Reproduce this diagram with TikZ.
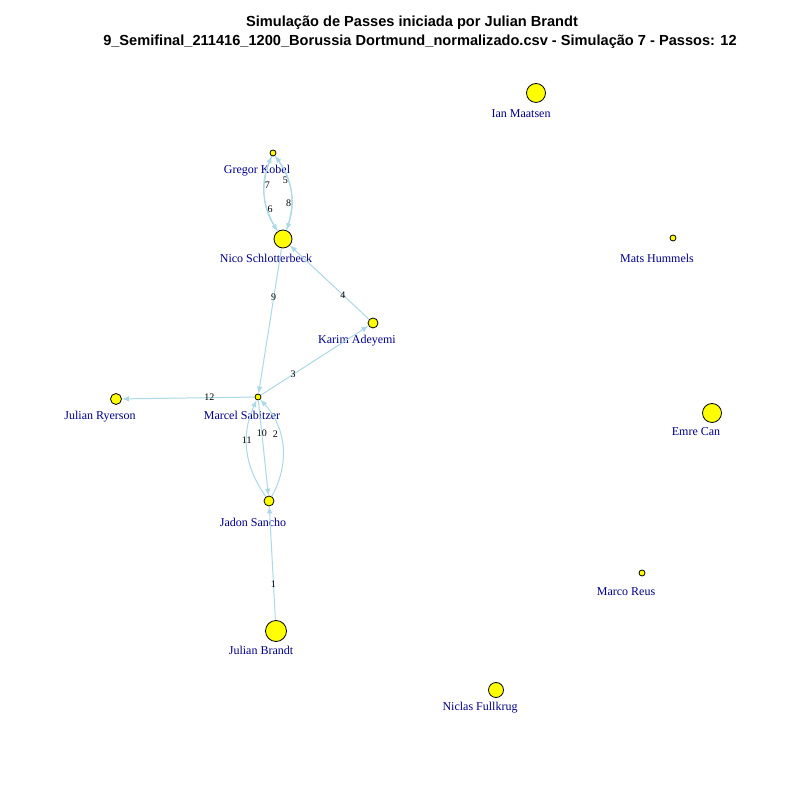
\documentclass[tikz,border=0pt]{standalone}
\usepackage{fontspec}
\setmainfont{Liberation Serif}
\newfontfamily\titlefont{Liberation Sans}
\usetikzlibrary{arrows.meta}
\definecolor{edgeblue}{HTML}{ADD8E6}
\definecolor{namecol}{HTML}{00008B}
\definecolor{dotfill}{HTML}{FFFF00}
\tikzset{
  playerdot/.style={circle, draw=black, line width=0.8pt, fill=dotfill, inner sep=0pt, minimum size=#1},
  playername/.style={text=namecol, font=\fontsize{12}{12}\selectfont, inner sep=0pt, anchor=center},
  pass/.style={draw=edgeblue, line width=1pt, -{Latex[length=7pt,width=5.5pt]}},
  passno/.style={font=\fontsize{10}{10}\selectfont, text=black, inner sep=0pt},
  heading/.style={font=\titlefont\bfseries\fontsize{14.6}{14.6}\selectfont, inner sep=0pt}
}
\begin{document}
\begin{tikzpicture}[x=1pt,y=1pt]
\useasboundingbox (0,0) rectangle (800,800);
\fill[white] (0,0) rectangle (800,800);

% title
\node[heading] (t1) at (412,777) {Simulação de Passes iniciada por Julian Brandt};
\node[heading] (t2) at (420,758) {9\_Semifinal\_211416\_1200\_Borussia Dortmund\_normalizado.csv - Simulação 7 - Passos: 12};

% players
\node[playerdot=19pt] (maatsen)  at (536,707) {};
\node[playerdot=6pt]  (kobel)    at (273,647) {};
\node[playerdot=18pt] (schl)     at (283,561) {};
\node[playerdot=6pt]  (hummels)  at (673,562) {};
\node[playerdot=10pt] (adeyemi)  at (373,477) {};
\node[playerdot=11pt] (ryerson)  at (116,401) {};
\node[playerdot=6pt]  (sabitzer) at (258,403) {};
\node[playerdot=19pt] (emre)     at (712,387) {};
\node[playerdot=10pt] (sancho)   at (269,299) {};
\node[playerdot=6pt]  (reus)     at (642,227) {};
\node[playerdot=21pt] (brandt)   at (276,169) {};
\node[playerdot=15pt] (fullkrug) at (496,110) {};

% player names
\node[playername] (maatsen-n)  at (521,686) {Ian Maatsen};
\node[playername] (kobel-n)    at (257,629) {Gregor Kobel};
\node[playername] (schl-n)     at (266,542) {Nico Schlotterbeck};
\node[playername] (hummels-n)  at (657,542) {Mats Hummels};
\node[playername] (adeyemi-n)  at (357,459) {Karim Adeyemi};
\node[playername] (ryerson-n)  at (100,383) {Julian Ryerson};
\node[playername] (sabitzer-n) at (242,385) {Marcel Sabitzer};
\node[playername] (emre-n)     at (696,368) {Emre Can};
\node[playername] (sancho-n)   at (253,278) {Jadon Sancho};
\node[playername] (reus-n)     at (626,208) {Marco Reus};
\node[playername] (brandt-n)   at (261,150) {Julian Brandt};
\node[playername] (fullkrug-n) at (480,92)  {Niclas Fullkrug};

% passes in order
\draw[pass] (brandt) -- node[passno, pos=0.32] {1} (sancho);
\draw[pass] (sancho) to[bend right=36] node[passno, pos=0.62, xshift=-5pt] {2} (sabitzer);
\draw[pass] (sabitzer) -- node[passno, pos=0.3] {3} (adeyemi);
\draw[pass] (adeyemi) -- node[passno, pos=0.33] {4} (schl);
\draw[pass] (schl) to[bend right=28] node[passno, pos=0.65, xshift=-3pt] {5} (kobel);
\draw[pass] (kobel) to[bend right=28] node[passno, pos=0.7, xshift=3pt] {6} (schl);
\draw[pass] (schl) to[bend left=28] node[passno, pos=0.62, xshift=3pt] {7} (kobel);
\draw[pass] (kobel) to[bend left=28] node[passno, pos=0.66, xshift=-3pt] {8} (schl);
\draw[pass] (schl) -- node[passno, pos=0.34] {9} (sabitzer);
\draw[pass] (sabitzer) -- node[passno, pos=0.35] {10} (sancho);
\draw[pass] (sancho) to[bend left=30] node[passno, pos=0.6] {11} (sabitzer);
\draw[pass] (sabitzer) -- node[passno, pos=0.34] {12} (ryerson);
\end{tikzpicture}
\end{document}
